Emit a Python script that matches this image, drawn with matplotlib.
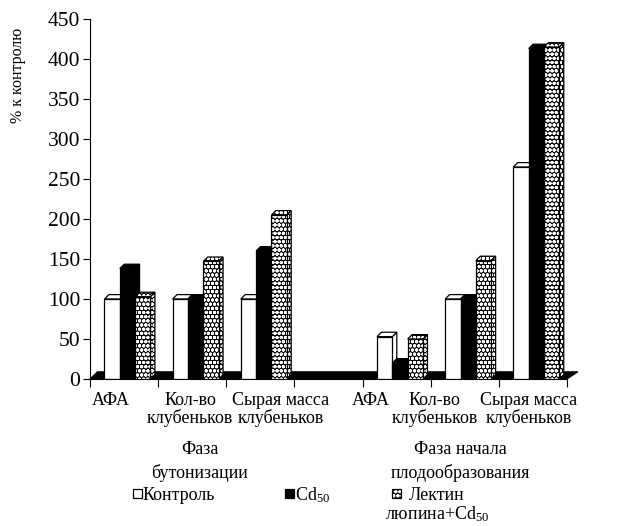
import matplotlib
matplotlib.use('Agg')
import matplotlib.pyplot as plt
from matplotlib.patches import Polygon, Rectangle
from matplotlib.transforms import blended_transform_factory
import numpy as np

# ---------------- data ----------------
categories = ['АФА', 'Кол-во\nклубеньков', 'Сырая масса\nклубеньков', '',
              'АФА', 'Кол-во\nклубеньков', 'Сырая масса\nклубеньков']
control = [100, 100, 100, np.nan, 53, 100, 265]
cd50 = [138, 100, 160, np.nan, 20, 100, 413]
lectin = [103, 147, 205, np.nan, 50, 148, 415]
phases = ['Фаза\nбутонизации', 'Фаза начала\nплодообразования']
series_names = ['Контроль', 'Cd$_{50}$', ['Лектин', 'люпина+Cd$_{50}$']]
yticks = [0, 50, 100, 150, 200, 250, 300, 350, 400, 450]
ylabel = '% к контролю'

# ---------------- layout / style ----------------
W, H = 617, 526
plt.rcParams['font.family'] = ['Liberation Serif', 'DejaVu Serif']
plt.rcParams['mathtext.fontset'] = 'custom'
plt.rcParams['mathtext.rm'] = 'Liberation Serif'
plt.rcParams['mathtext.it'] = 'Liberation Serif:italic'
plt.rcParams['mathtext.bf'] = 'Liberation Serif:bold'
plt.rcParams['hatch.linewidth'] = 1.1
fig = plt.figure(figsize=(W / 100, H / 100), dpi=100)
ax_l, ax_r, ax_b, ax_t = 90, 567, 379, 19
ax = fig.add_axes([ax_l / W, 1 - ax_b / H, (ax_r - ax_l) / W, (ax_b - ax_t) / H])

n = len(categories)
x = np.arange(n)
bw = 0.225
gshift = 0.05
dx, dy = 0.065, 5.5  # pseudo-3D depth

styles = [
    dict(facecolor='white', edgecolor='black', hatch=None),
    dict(facecolor='black', edgecolor='black', hatch=None),
    dict(facecolor='black', edgecolor='white', hatch='oooo'),
]
series = [control, cd50, lectin]
offsets = [-bw, 0, bw]

# floor
floor = Polygon([(-0.5, 0), (6.5, 0), (6.5 + 0.16, 9), (-0.5 + 0.11, 9)],
                closed=True, facecolor='black', edgecolor='black', lw=0.8,
                zorder=1, clip_on=False)
ax.add_patch(floor)

z = 2
for gi in range(n):
    for si, (vals, off, st) in enumerate(zip(series, offsets, styles)):
        v = vals[gi]
        if np.isnan(v):
            continue
        xc = x[gi] + off + gshift
        x0, x1 = xc - bw / 2, xc + bw / 2
        hatched = st['hatch'] is not None
        side = Polygon([(x1, 0), (x1 + dx, dy), (x1 + dx, v + dy), (x1, v)], closed=True,
                       facecolor=st['facecolor'], edgecolor=st['edgecolor'],
                       hatch=st['hatch'], lw=0 if hatched else 0.9, zorder=z, clip_on=False)
        top = Polygon([(x0, v), (x1, v), (x1 + dx, v + dy), (x0 + dx, v + dy)], closed=True,
                      facecolor=st['facecolor'], edgecolor=st['edgecolor'],
                      hatch=st['hatch'], lw=0 if hatched else 0.9, zorder=z, clip_on=False)
        ax.add_patch(side)
        ax.add_patch(top)
        if hatched:
            for p in (side, top):
                ax.add_patch(Polygon(p.get_xy(), closed=True, facecolor='none',
                                     edgecolor='black', lw=0.9, zorder=z, clip_on=False))
        ax.bar(xc, v, width=bw, facecolor=st['facecolor'],
               edgecolor=st['edgecolor'], hatch=st['hatch'],
               lw=0 if hatched else 0.9, zorder=z)
        if hatched:
            ax.bar(xc, v, width=bw, facecolor='none', edgecolor='black', lw=0.9, zorder=z)
        z += 1

ax.set_xlim(-0.5, 6.5)
ax.set_ylim(0, 450)
ax.set_yticks(yticks)
ax.tick_params(axis='y', labelsize=15.5, length=5, width=0.8, pad=2)
ax.set_xticks(np.arange(-0.5, n, 1.0))
ax.set_xticklabels([])
ax.tick_params(axis='x', length=6, width=0.8, direction='out')
for s in ('top', 'right'):
    ax.spines[s].set_visible(False)
for s in ('left', 'bottom'):
    ax.spines[s].set_linewidth(0.8)

# category labels (positions mimic the reference layout)
label_shift = [-0.19, -0.03, 0.30, 0, -0.38, -0.44, -0.06]
tr = blended_transform_factory(ax.transData, ax.transAxes)
def ay(py):
    return (ax_b - py) / (ax_b - ax_t)
for i, lab in enumerate(categories):
    if not lab:
        continue
    ax.text(x[i] + label_shift[i], ay(392), lab, transform=tr, ha='center', va='top',
            fontsize=13, linespacing=1.0)

# phase labels
phase_px = [200, 460]
for lab, px in zip(phases, phase_px):
    fig.text(px / W, 1 - 441 / H, lab, ha='center', va='top', fontsize=13, linespacing=1.45)

# y label
fig.text(18 / W, 1 - 75 / H, ylabel, rotation=90, ha='center', va='center', fontsize=11.5)

# legend (manual)
leg_items = [(133, 143), (285, 295), (392, 437)]
for (sx, tx), st, name in zip(leg_items, styles, series_names):
    r = Rectangle((sx / W, 1 - 498 / H), 9 / W, 9 / H, transform=fig.transFigure,
                  facecolor=st['facecolor'], edgecolor=st['edgecolor'], hatch=st['hatch'],
                  lw=0 if st['hatch'] else 0.9)
    fig.add_artist(r)
    if st['hatch']:
        fig.add_artist(Rectangle((sx / W, 1 - 498 / H), 9 / W, 9 / H, transform=fig.transFigure,
                                 facecolor='none', edgecolor='black', lw=0.9))
        fig.text(tx / W, 1 - 495 / H, name[0], ha='center', va='center', fontsize=13)
        fig.text(tx / W, 1 - 514 / H, name[1], ha='center', va='center', fontsize=13)
    else:
        fig.text(tx / W, 1 - 495 / H, name, ha='left', va='center', fontsize=13)

fig.savefig('out.png', dpi=100)
